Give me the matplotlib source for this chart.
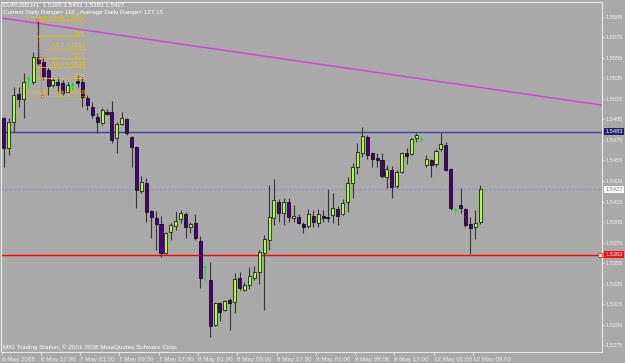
import matplotlib
matplotlib.use('Agg')
import matplotlib.pyplot as plt
import matplotlib.transforms as mtransforms
from matplotlib.patches import Rectangle
import numpy as np

plt.rcParams['font.family'] = ['Liberation Sans', 'DejaVu Sans']

nan = np.nan

# EURUSD H1 bars (NaN = bar hidden under an arrow)
opens = [1.5496, 1.5467, 1.5493, 1.5520, 1.5515, nan, 1.5532, 1.5556, 1.5551, 1.5543,
         1.5529, 1.5532, 1.5531, 1.5522, nan, 1.5533, 1.5532, 1.5516, 1.5507, 1.5497,
         1.5492, 1.5502, 1.5502, 1.5477, 1.5491, 1.5495, 1.5478, 1.5468, 1.5425, 1.5433,
         1.5406, 1.5399, 1.5393, 1.5365, 1.5385, 1.5391, 1.5398, 1.5403, 1.5390, 1.5394,
         1.5376, nan, 1.5338, 1.5295, 1.5316, 1.5309, 1.5319, 1.5317, 1.5340, 1.5329,
         1.5334, 1.5340, 1.5346, 1.5365, 1.5377, 1.5399, 1.5415, 1.5404, 1.5415, 1.5399,
         1.5400, 1.5393, 1.5391, 1.5401, 1.5394, 1.5401, 1.5400, 1.5402, 1.5408, 1.5403,
         1.5415, 1.5433, 1.5449, 1.5462, 1.5478, 1.5462, 1.5457, 1.5455, 1.5439, 1.5446,
         1.5430, 1.5444, 1.5462, 1.5461, 1.5477, nan, 1.5451, 1.5455, 1.5452, 1.5466,
         1.5470, 1.5447, nan, 1.5412, 1.5408, 1.5393, 1.5390, 1.5395]
highs = [1.5497, 1.5496, 1.5527, 1.5527, 1.5540, nan, 1.5561, 1.5592, 1.5556, 1.5546,
         1.5536, 1.5536, 1.5534, 1.5532, nan, 1.5538, 1.5536, 1.5519, 1.5512, 1.5501,
         1.5506, 1.5505, 1.5513, 1.5493, 1.5502, 1.5496, 1.5479, 1.5469, 1.5440, 1.5438,
         1.5407, 1.5406, 1.5401, 1.5385, 1.5394, 1.5406, 1.5407, 1.5405, 1.5395, 1.5403,
         1.5381, nan, 1.5356, 1.5317, 1.5317, 1.5319, 1.5321, 1.5345, 1.5346, 1.5336,
         1.5351, 1.5352, 1.5368, 1.5382, 1.5431, 1.5437, 1.5417, 1.5418, 1.5418, 1.5412,
         1.5403, 1.5395, 1.5408, 1.5407, 1.5408, 1.5407, 1.5427, 1.5423, 1.5411, 1.5417,
         1.5439, 1.5453, 1.5472, 1.5488, 1.5480, 1.5463, 1.5462, 1.5462, 1.5451, 1.5450,
         1.5446, 1.5463, 1.5467, 1.5477, 1.5482, nan, 1.5460, 1.5456, 1.5466, 1.5482,
         1.5473, 1.5448, nan, 1.5428, 1.5409, 1.5400, 1.5407, 1.5431]
lows = [1.5449, 1.5460, 1.5483, 1.5507, 1.5496, nan, 1.5530, 1.5548, 1.5534, 1.5519,
        1.5527, 1.5521, 1.5519, 1.5521, nan, 1.5527, 1.5507, 1.5504, 1.5496, 1.5482,
        1.5490, 1.5499, 1.5472, 1.5462, 1.5490, 1.5480, 1.5449, 1.5409, 1.5423, 1.5395,
        1.5379, 1.5368, 1.5361, 1.5364, 1.5377, 1.5387, 1.5394, 1.5379, 1.5384, 1.5377,
        1.5331, nan, 1.5283, 1.5294, 1.5298, 1.5308, 1.5290, 1.5306, 1.5329, 1.5328,
        1.5330, 1.5338, 1.5335, 1.5309, 1.5368, 1.5392, 1.5395, 1.5392, 1.5395, 1.5395,
        1.5393, 1.5384, 1.5389, 1.5390, 1.5390, 1.5395, 1.5395, 1.5394, 1.5392, 1.5402,
        1.5405, 1.5418, 1.5442, 1.5458, 1.5456, 1.5449, 1.5449, 1.5438, 1.5428, 1.5418,
        1.5428, 1.5443, 1.5452, 1.5460, 1.5473, nan, 1.5449, 1.5439, 1.5449, 1.5464,
        1.5445, 1.5407, nan, 1.5404, 1.5390, 1.5364, 1.5378, 1.5393]
closes = [1.5467, 1.5493, 1.5519, 1.5515, 1.5532, nan, 1.5556, 1.5550, 1.5537, 1.5528,
          1.5534, 1.5529, 1.5521, 1.5529, nan, 1.5531, 1.5517, 1.5509, 1.5499, 1.5493,
          1.5504, 1.5500, 1.5475, 1.5491, 1.5496, 1.5482, 1.5468, 1.5426, 1.5434, 1.5405,
          1.5400, 1.5393, 1.5365, 1.5384, 1.5392, 1.5396, 1.5404, 1.5390, 1.5393, 1.5379,
          1.5340, nan, 1.5294, 1.5316, 1.5307, 1.5318, 1.5316, 1.5339, 1.5331, 1.5334,
          1.5342, 1.5346, 1.5366, 1.5378, 1.5400, 1.5416, 1.5404, 1.5415, 1.5400, 1.5401,
          1.5394, 1.5390, 1.5403, 1.5395, 1.5403, 1.5399, 1.5399, 1.5409, 1.5401, 1.5414,
          1.5433, 1.5449, 1.5463, 1.5479, 1.5460, 1.5456, 1.5456, 1.5440, 1.5447, 1.5429,
          1.5444, 1.5462, 1.5459, 1.5476, 1.5480, nan, 1.5456, 1.5451, 1.5464, 1.5471,
          1.5446, 1.5409, nan, 1.5409, 1.5392, 1.5389, 1.5394, 1.5427]

time_labels = ['6 May 2008', '6 May 17:00', '7 May 01:00', '7 May 09:00', '7 May 17:00',
               '8 May 01:00', '8 May 09:00', '8 May 17:00', '9 May 01:00', '9 May 09:00',
               '9 May 17:00', '12 May 01:00', '12 May 09:00']
time_label_bars = [0, 8, 16, 24, 32, 40, 48, 56, 64, 72, 80, 88, 96]
price_ticks = [1.5595, 1.5575, 1.5555, 1.5535, 1.5515, 1.5495, 1.5475, 1.5455, 1.5435,
               1.5415, 1.5395, 1.5375, 1.5355, 1.5335, 1.5315, 1.5295, 1.5275]

day_high = 1.5483
bid = 1.5427
day_low = 1.5363
trend_x = [-0.55, 121.8]
trend_y = [1.5594, 1.5509]

fib_labels = ['Pattern break 1.5592', '78.6', '61.8 1.5564', '50.0', '38.2 1.5546',
              '23.6', 'Pattern break 1.5518']
fib_prices = [1.5592, 1.5576, 1.5564, 1.5555, 1.5546, 1.5535, 1.5518]
fib_start = [6.6, 7.0, 8.6, 7.0, 7.0, 7.0, 6.0]
fib_end = 16.6

arrow_bars = [5, 14, 41, 85, 92]
arrow_top = [1.5540, 1.5534, 1.5356, 1.5481, 1.5412]
arrow_bottom = [1.5524, 1.5521, 1.5334, 1.5470, 1.5400]

bg = '#a9a9a9'
fs = 4.5
fs_y = 4.1

fig = plt.figure(figsize=(6.25, 3.63), dpi=100)
fig.patch.set_facecolor(bg)
ax = fig.add_axes([1.5 / 625, 11 / 363, 600.5 / 625, 350 / 363])
ax.set_facecolor(bg)
ax.set_xlim(-0.24, 121.8)
ax.set_ylim(1.52682, 1.56096)

# 画蜡烛
w = 0.62
for i in range(len(opens)):
    o, h, l, c = opens[i], highs[i], lows[i], closes[i]
    if np.isnan(o):
        continue
    ax.vlines(i, l, h, color='#353535', lw=0.8, zorder=2)
    col = '#adff2f' if c > o else '#4b0082'
    lo, hi = min(o, c), max(o, c)
    if hi - lo < 0.00012:
        lo, hi = (lo + hi) / 2 - 0.00006, (lo + hi) / 2 + 0.00006
    ax.add_patch(Rectangle((i - w / 2, lo), w, hi - lo, facecolor=col,
                           edgecolor='black', lw=0.5, zorder=3))

# 水平线
ax.axhline(day_high, color='#3e3ea0', lw=1.0, zorder=1)
ax.axhline(bid, color='#9494c4', lw=1.0, ls=(0, (2, 1)), zorder=1)
ax.axhline(day_low, color='#ff0000', lw=1.0, zorder=1)
ax.plot([121.4], [day_low], marker='s', ms=2.2, mfc='white', mec='#ff0000', mew=0.5,
        clip_on=False, zorder=4)
ax.plot(trend_x, trend_y, color='#d040d0', lw=1.0, zorder=1)

# 斐波那契
gold = '#e8c400'
for lab, p, s in zip(fib_labels, fib_prices, fib_start):
    ls = ':' if lab.endswith('1.5518') else '-'
    ax.plot([s, fib_end], [p, p], color=gold, lw=0.6, ls=ls, zorder=4)
    ax.text(fib_end, p + 0.00004, lab, color=gold, fontsize=fs, ha='right',
            va='bottom', zorder=5)
ax.plot([6.8, 7.8], [1.5592, 1.5518], color='#ff2a2a', lw=0.6, ls=':', zorder=5)
ax.plot([6.8, 7.3, 7.8], [1.5592, 1.5555, 1.5518], ls='none', marker='s', ms=2,
        mfc='white', mec='#ff3030', mew=0.5, zorder=6)

# 箭头
for b, t, bt in zip(arrow_bars, arrow_top, arrow_bottom):
    ax.annotate('', xy=(b, t), xytext=(b, bt),
                arrowprops=dict(arrowstyle='-|>', color='#10e010', lw=0.7,
                                mutation_scale=3.5), zorder=6)

# 坐标轴
for sp in ax.spines.values():
    sp.set_color('#e6e6e6')
    sp.set_linewidth(0.8)
ax.yaxis.tick_right()
ax.set_yticks(price_ticks)
ax.set_yticklabels(['%.4f' % v for v in price_ticks])
ax.tick_params(axis='y', colors='#f2f2f2', labelsize=fs_y, length=1.5, width=0.6, pad=1)
ax.set_xticks([b - 0.48 for b in time_label_bars])
ax.set_xticklabels(time_labels)
ax.tick_params(axis='x', colors='#f2f2f2', labelsize=fs, length=2, width=0.6, pad=1.5)
for t in ax.get_xticklabels():
    t.set_horizontalalignment('left')

# 右侧价格标签
tr = mtransforms.blended_transform_factory(ax.transAxes, ax.transData)
for p, txt, fc, tc in [(day_high, '1.5483', '#20206e', 'white'),
                       (bid, '1.5427', 'white', '#7a7a7a'),
                       (day_low, '1.5363', '#ff1010', 'white')]:
    ax.text(1.0 + 3.5 / 600.5, p, txt, transform=tr, fontsize=fs_y, color=tc, ha='left',
            va='center', zorder=7, clip_on=False,
            bbox=dict(boxstyle='square,pad=0.2', fc=fc, ec=fc, lw=0))

fig.text(3 / 625, 1 - 2.5 / 363, 'EURUSD,H1  1.5395 1.5431 1.5393 1.5427',
         color='white', fontsize=fs, va='top')
fig.text(3 / 625, 1 - 10 / 363,
         'Current Daily Range= 118 , Average Daily Range= 127.15',
         color='white', fontsize=fs, va='top')
fig.text(3 / 625, 1 - 347.5 / 363,
         'MIG Trading Station, \u00a9 2001-2008 MetaQuotes Software Corp.',
         color='white', fontsize=fs, va='center')

fig.savefig('out.png', dpi=100, facecolor=bg)
